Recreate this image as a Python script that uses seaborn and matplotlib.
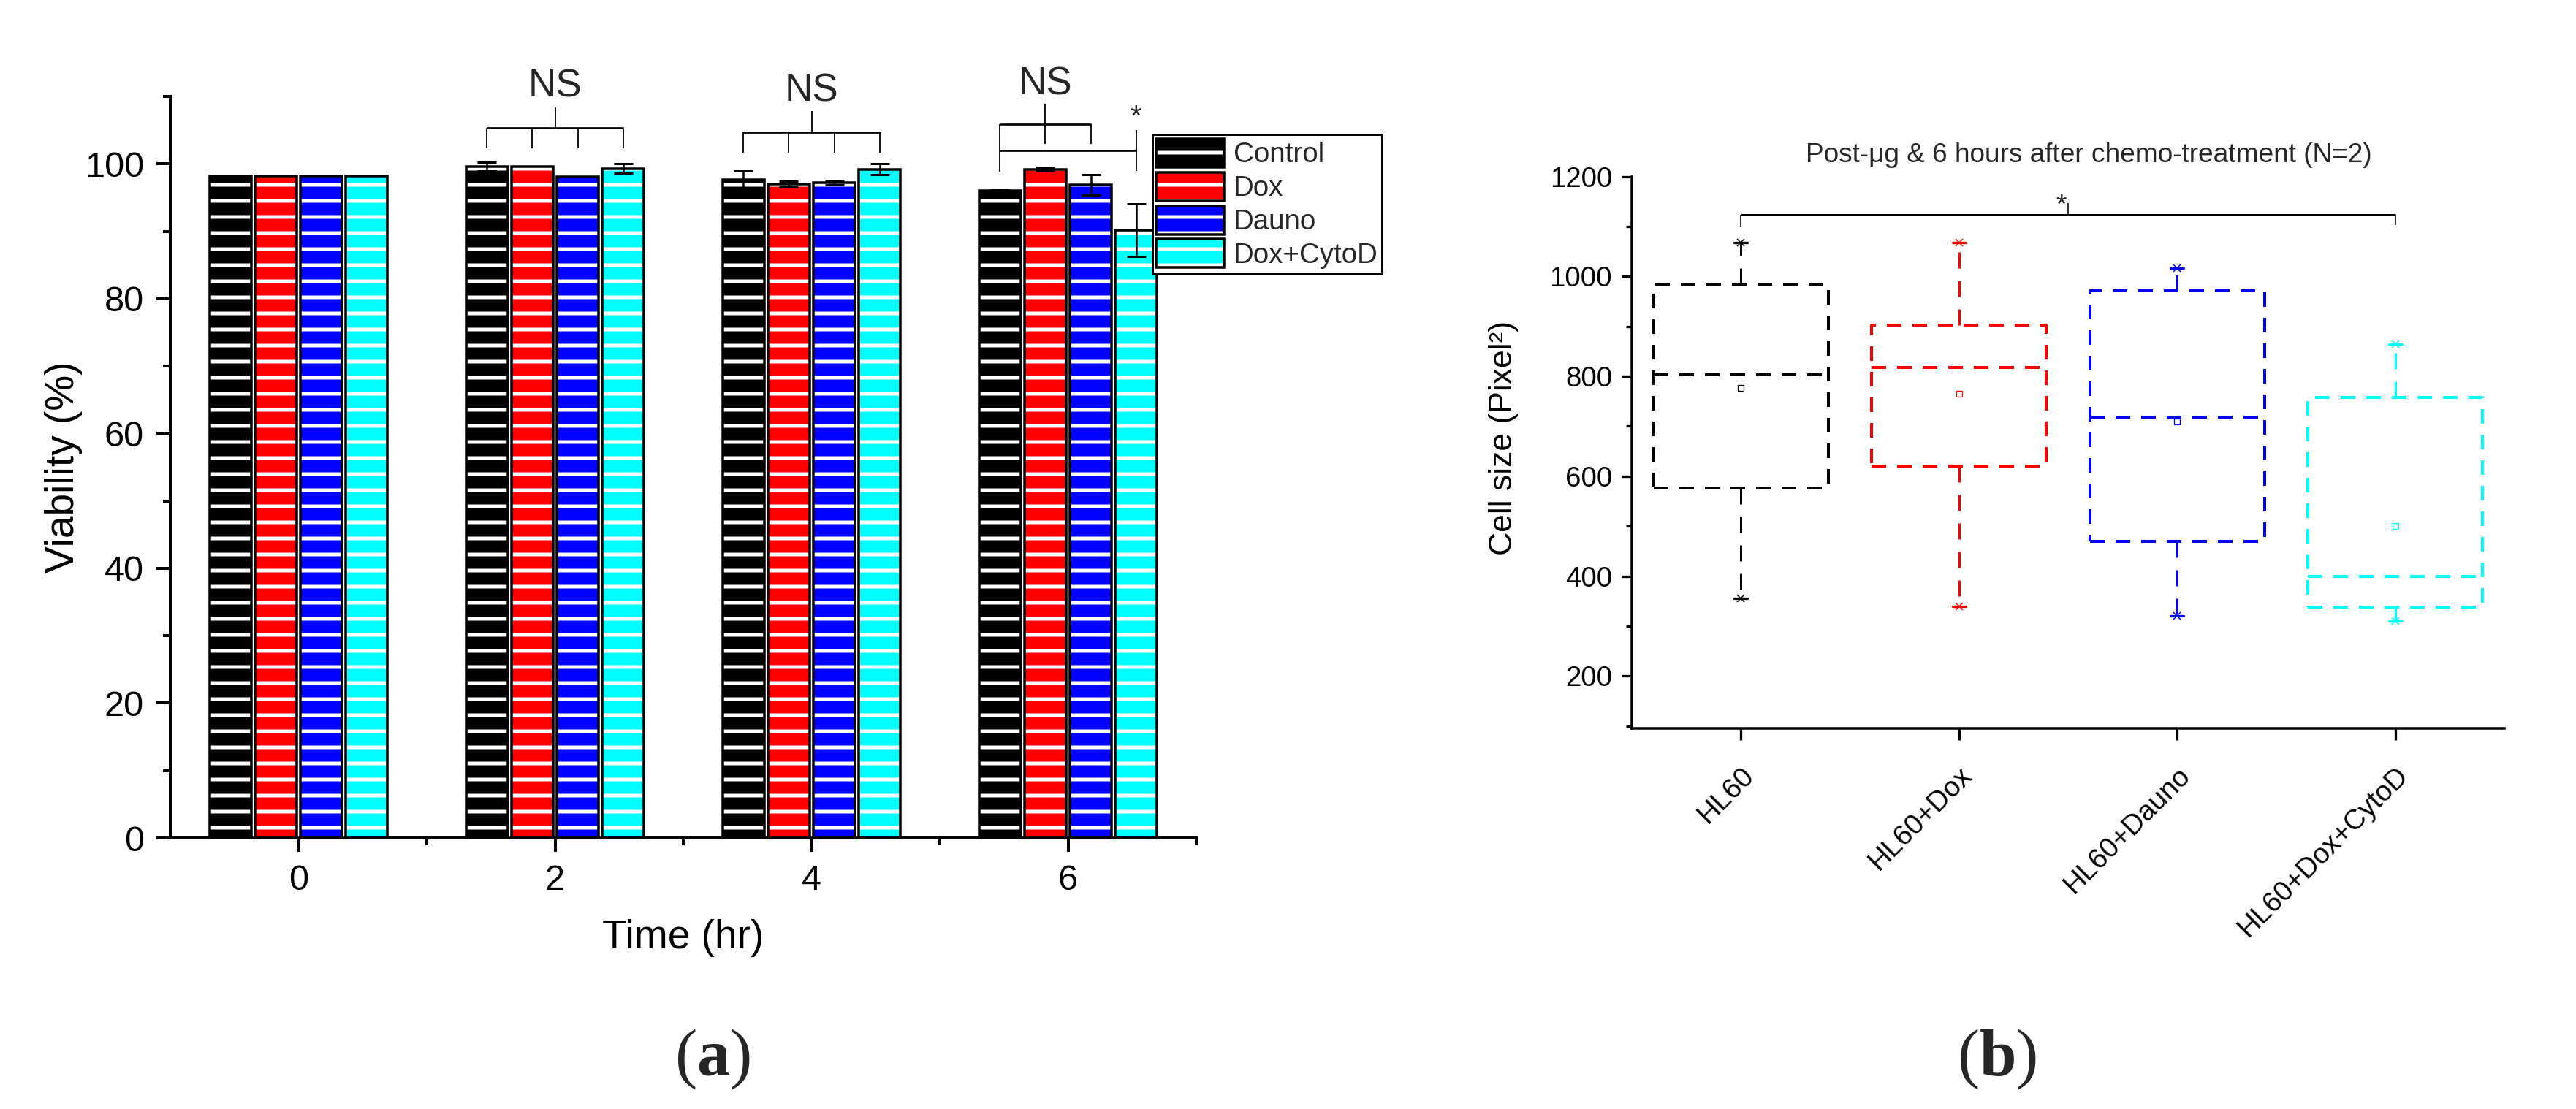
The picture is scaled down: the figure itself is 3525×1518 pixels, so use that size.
"""Viability bars (a) and cell-size box chart (b) after chemo-treatment."""

import matplotlib

matplotlib.use("Agg")
import matplotlib.pyplot as plt
import pandas as pd
import seaborn as sns
from matplotlib.patches import Patch, Rectangle
from matplotlib.ticker import FixedLocator, MultipleLocator

DPI = 132


def px(value):
    """Convert pixels of the output image into points."""
    return value * 72 / DPI


# panel (a): viability (%) per time point
TIMES = ["0", "2", "4", "6"]
GROUPS = ["Control", "Dox", "Dauno", "Dox+CytoD"]
COLORS = ["#000000", "#FF0000", "#0000FF", "#00FFFF"]
CONTROL_MEAN = [98.2, 99.6, 97.7, 96.0]
CONTROL_SD = [0.0, 0.6, 1.2, 0.1]
DOX_MEAN = [98.2, 99.6, 97.0, 99.2]
DOX_SD = [0.0, 0.0, 0.4, 0.3]
DAUNO_MEAN = [98.2, 98.1, 97.2, 96.9]
DAUNO_SD = [0.0, 0.0, 0.3, 1.5]
CYTOD_MEAN = [98.2, 99.3, 99.2, 90.2]
CYTOD_SD = [0.0, 0.7, 0.8, 3.9]

# panel (b): cell size box statistics
BOX_LABELS = ["HL60", "HL60+Dox", "HL60+Dauno", "HL60+Dox+CytoD"]
BOX_MIN = [355, 340, 320, 310]
BOX_Q1 = [577, 620, 470, 338]
BOX_MED = [803, 818, 718, 400]
BOX_Q3 = [984, 902, 971, 757]
BOX_MAX = [1068, 1068, 1016, 864]
BOX_MEAN = [777, 765, 709, 500]


def bracket_line(ax, xs, ys, width):
    ax.plot(xs, ys, color="black", linewidth=px(width), clip_on=False,
            solid_capstyle="butt", zorder=5)


def draw_viability(ax):
    means = [CONTROL_MEAN, DOX_MEAN, DAUNO_MEAN, CYTOD_MEAN]
    sds = [CONTROL_SD, DOX_SD, DAUNO_SD, CYTOD_SD]
    rows = []
    for group, values in zip(GROUPS, means):
        for time, value in zip(TIMES, values):
            rows.append({"time": time, "group": group, "viability": value})
    data = pd.DataFrame(rows)

    sns.barplot(data=data, x="time", y="viability", hue="group",
                order=TIMES, hue_order=GROUPS, palette=COLORS, saturation=1,
                width=0.707, gap=0.094, errorbar=None, legend=False, ax=ax)

    centers = [[0.0] * 4 for _ in TIMES]
    for i, (container, group_sd) in enumerate(zip(ax.containers, sds)):
        for g, (bar, sd) in enumerate(zip(container, group_sd)):
            bar.set_hatch("-")
            bar.set_edgecolor("white")
            bar.set_linewidth(0)
            ax.add_patch(Rectangle(bar.get_xy(), bar.get_width(), bar.get_height(),
                                   fill=False, edgecolor="black",
                                   linewidth=px(3.5), zorder=1.5))
            x = bar.get_x() + bar.get_width() / 2
            centers[g][i] = x
            if sd > 0:
                ax.errorbar(x, bar.get_height(), yerr=sd, color="black",
                            capsize=px(13), capthick=px(3), elinewidth=px(2.5),
                            zorder=3)

    # significance brackets above the 2 h and 4 h groups
    for g, top, low, stem, text_y in [(1, 105.4, 102.3, 108.4, 110.0),
                                      (2, 104.7, 101.7, 107.8, 109.35)]:
        c = centers[g]
        bracket_line(ax, [c[0], c[3]], [top, top], 2.7)
        for x in c:
            bracket_line(ax, [x, x], [low, top], 1.8)
        mid = (c[0] + c[3]) / 2
        bracket_line(ax, [mid, mid], [top, stem], 1.8)
        ax.text(mid, text_y, "NS", ha="center", va="baseline",
                fontsize=px(53), clip_on=False)

    # 6 h group
    c = centers[3]
    bracket_line(ax, [c[0], c[2]], [105.9, 105.9], 2.7)
    bracket_line(ax, [c[0], c[0]], [98.8, 105.9], 1.8)
    bracket_line(ax, [c[2], c[2]], [103.0, 105.9], 1.8)
    bracket_line(ax, [c[1], c[1]], [103.0, 108.9], 1.8)
    ax.text(c[1], 110.25, "NS", ha="center", va="baseline",
            fontsize=px(53), clip_on=False)
    bracket_line(ax, [c[0], c[3]], [102.0, 102.0], 2.7)
    bracket_line(ax, [c[3], c[3]], [99.0, 105.05], 1.8)
    ax.text(c[3], 105.7, "*", ha="center", va="baseline",
            fontsize=px(40), clip_on=False)

    ax.set_xlim(-0.5, 3.5)
    ax.set_ylim(0, 110)
    ax.yaxis.set_major_locator(MultipleLocator(20))
    ax.yaxis.set_minor_locator(MultipleLocator(10))
    ax.xaxis.set_minor_locator(FixedLocator([0.5, 1.5, 2.5, 3.5]))
    ax.tick_params(which="major", length=px(19), width=px(4),
                   labelsize=px(48.6), pad=px(17))
    ax.tick_params(which="minor", length=px(10), width=px(4))
    for side in ["left", "bottom"]:
        ax.spines[side].set_linewidth(px(4))
    sns.despine(ax=ax)

    ax.set_xlabel("Time (hr)", fontsize=px(55))
    ax.set_ylabel("Viability (%)", fontsize=px(55))
    ax.xaxis.set_label_coords(0.5, -0.109)
    ax.yaxis.set_label_coords(-0.0857, 0.5)

    handles = [(Patch(facecolor=color, edgecolor="white", hatch="-", linewidth=0),
                Patch(fill=False, edgecolor="black", linewidth=px(3.5)))
               for color in COLORS]
    legend = ax.legend(handles, GROUPS, loc="upper left",
                       bbox_to_anchor=(0.957, 0.9488), frameon=True,
                       fancybox=False, edgecolor="black", framealpha=1,
                       fontsize=px(38.5), handlelength=2.4, handleheight=1.18,
                       labelspacing=0.14, borderpad=0.15, handletextpad=0.33,
                       borderaxespad=0)
    legend.get_frame().set_linewidth(px(3))


def draw_cell_size(ax):
    box_dash = (0, (px(20), px(15)))
    whisker_dash = (0, (px(22), px(17)))
    for i, color in enumerate(COLORS):
        stats = [{
            "med": BOX_MED[i], "q1": BOX_Q1[i], "q3": BOX_Q3[i],
            "whislo": BOX_MIN[i], "whishi": BOX_MAX[i],
            "mean": BOX_MEAN[i], "fliers": [BOX_MIN[i], BOX_MAX[i]],
        }]
        ax.bxp(stats, positions=[i], widths=0.8, capwidths=0.06,
               showmeans=True, manage_ticks=False,
               boxprops=dict(color=color, linewidth=px(4), linestyle=box_dash),
               medianprops=dict(color=color, linewidth=px(4), linestyle=box_dash),
               whiskerprops=dict(color=color, linewidth=px(3),
                                 linestyle=whisker_dash),
               capprops=dict(color=color, linewidth=px(3.3)),
               meanprops=dict(marker="s", markerfacecolor="none",
                              markeredgecolor=color, markersize=px(8),
                              markeredgewidth=px(1.3)),
               flierprops=dict(marker="x", markeredgecolor=color,
                               markersize=px(10), markeredgewidth=px(1.5)))

    # significance bracket HL60 vs HL60+Dox+CytoD
    bracket_line(ax, [0, 3], [1123, 1123], 3)
    bracket_line(ax, [0, 0], [1099, 1123], 1.6)
    bracket_line(ax, [3, 3], [1103, 1123], 1.6)
    bracket_line(ax, [1.5, 1.5], [1123, 1147], 1.6)
    ax.text(1.47, 1126, "*", ha="center", va="baseline", fontsize=px(37))

    ax.set_xlim(-0.5, 3.5)
    ax.set_ylim(95, 1200)
    ax.set_xticks(range(len(BOX_LABELS)))
    ax.set_xticklabels(BOX_LABELS)
    plt.setp(ax.get_xticklabels(), rotation=45, ha="right", va="top",
             rotation_mode="anchor")
    ax.yaxis.set_major_locator(MultipleLocator(200))
    ax.yaxis.set_minor_locator(MultipleLocator(100))
    ax.tick_params(axis="y", which="major", length=px(14), width=px(3.3),
                   labelsize=px(38.5), pad=px(13))
    ax.tick_params(axis="y", which="minor", length=px(8), width=px(3.3))
    ax.tick_params(axis="x", which="major", length=px(16), width=px(3.3),
                   labelsize=px(38.5), pad=px(30))
    for side in ["left", "bottom"]:
        ax.spines[side].set_linewidth(px(3.5))
    sns.despine(ax=ax)

    ax.set_ylabel("Cell size (Pixel²)", fontsize=px(44.5))
    ax.yaxis.set_label_coords(-0.130, 0.526)
    ax.text(0.524, 1.026, "Post-μg & 6 hours after chemo-treatment (N=2)",
            transform=ax.transAxes, ha="center", va="baseline",
            fontsize=px(37))


def main():
    sns.set_style("ticks")
    plt.rcParams["font.family"] = ["Liberation Sans", "DejaVu Sans"]
    plt.rcParams["lines.scale_dashes"] = False
    plt.rcParams["hatch.linewidth"] = px(5)
    plt.rcParams["mathtext.fontset"] = "custom"
    plt.rcParams["mathtext.rm"] = "Liberation Serif"
    plt.rcParams["mathtext.bf"] = "Liberation Serif:bold"
    plt.rcParams["axes.edgecolor"] = "black"
    plt.rcParams["xtick.color"] = "black"
    plt.rcParams["ytick.color"] = "black"
    plt.rcParams["axes.labelcolor"] = "black"

    fig = plt.figure(figsize=(3525 / DPI, 1518 / DPI), dpi=DPI)
    ax_a = fig.add_axes([0.0661, 0.2444, 0.3983, 0.6686])
    ax_b = fig.add_axes([0.6335, 0.3432, 0.3387, 0.4976])

    draw_viability(ax_a)
    draw_cell_size(ax_b)

    for x, letter in [(975, "a"), (2733, "b")]:
        fig.text(x / 3525, 1 - 1472 / 1518, rf"($\mathbf{{{letter}}}$)",
                 ha="center", va="baseline", fontsize=px(91),
                 family="Liberation Serif")

    fig.savefig("out.png", dpi=DPI)
    plt.close(fig)


if __name__ == "__main__":
    main()
